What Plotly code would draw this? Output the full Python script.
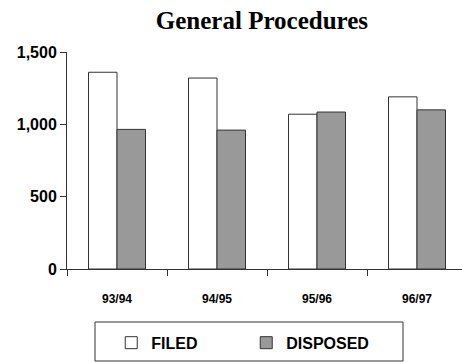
import plotly.graph_objects as go

categories = ["93/94", "94/95", "95/96", "96/97"]
filed = [1360, 1320, 1070, 1190]
disposed = [965, 960, 1085, 1100]
y_ticks = [0, 500, 1000, 1500]
y_tick_labels = ["0", "500", "1,000", "1,500"]

line_col = "#333333"
fig = go.Figure()
fig.add_trace(go.Bar(x=categories, y=filed, name="<b>FILED</b>",
                     marker=dict(color="white", line=dict(color=line_col, width=1))))
fig.add_trace(go.Bar(x=categories, y=disposed, name="<b>DISPOSED</b>",
                     marker=dict(color="#999999", line=dict(color=line_col, width=1))))

fig.update_layout(
    width=462, height=362,
    margin=dict(l=67, r=0, t=52, b=93),
    paper_bgcolor="white", plot_bgcolor="white",
    barmode="group", bargap=0.43, bargroupgap=0,
    title=dict(text="<b>General Procedures</b>", x=0.567, xanchor="center",
               y=0.943, yanchor="middle",
               font=dict(family="Liberation Serif, Times New Roman, serif", size=25, color="black")),
    font=dict(family="Liberation Sans, Arial", color="black"),
    showlegend=True,
    legend=dict(orientation="h", x=0.112, xanchor="left", y=-0.34, yanchor="middle",
                entrywidth=90, entrywidthmode="pixels", itemwidth=30,
                font=dict(size=16, family="Liberation Sans, Arial", color="black"),
                bgcolor="rgba(0,0,0,0)", borderwidth=0),
    shapes=[dict(type="rect", xref="paper", yref="paper",
                 x0=(95 - 67) / 395, x1=(403 - 67) / 395,
                 y0=(269 - 361) / 217, y1=(269 - 322) / 217,
                 line=dict(color=line_col, width=1), fillcolor="rgba(0,0,0,0)")],
)
fig.update_xaxes(range=[-0.5, 3.45], showline=True, linecolor=line_col, linewidth=1,
                 ticks="outside", tickson="boundaries", ticklen=6, tickcolor=line_col,
                 showgrid=False, tickfont=dict(size=12, family="Liberation Sans, Arial"),
                 ticklabelstandoff=19)
fig.update_yaxes(range=[0, 1500], tickvals=y_ticks, ticktext=["<b>%s</b>" % t for t in y_tick_labels],
                 showline=True, linecolor=line_col, linewidth=1, ticks="outside", ticklen=6,
                 tickcolor=line_col, showgrid=False, zeroline=False,
                 tickfont=dict(size=16, family="Liberation Sans, Arial"))
fig.update_xaxes(ticktext=["<b>%s</b>" % c for c in categories], tickvals=categories)

fig.write_html("out.html")
